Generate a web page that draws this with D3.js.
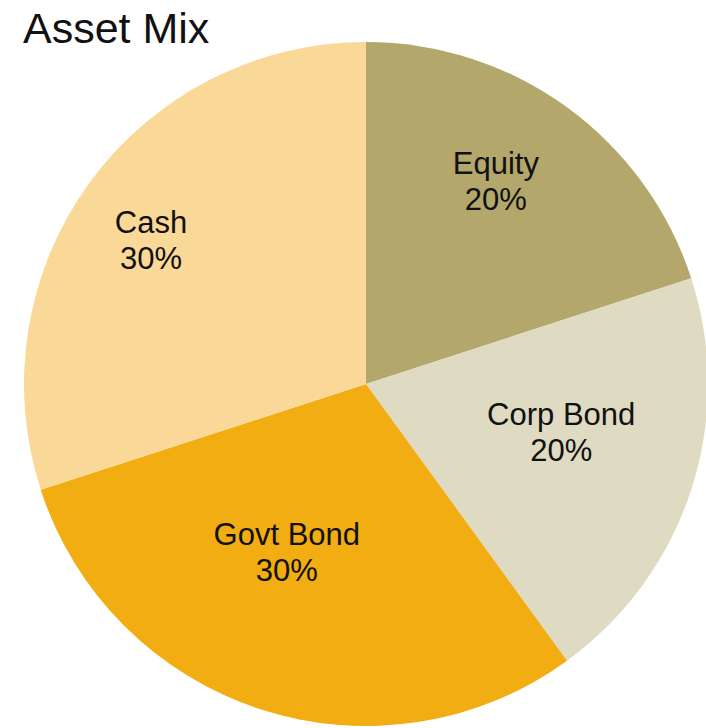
<!DOCTYPE html>
<html>
<head>
<meta charset="utf-8">
<script src="https://cdn.jsdelivr.net/npm/d3@7/dist/d3.min.js"></script>
<style>
  html, body { margin: 0; padding: 0; background: #ffffff; }
  svg { display: block; }
  text { font-family: "Liberation Sans", Arial, sans-serif; fill: #111111; }
</style>
</head>
<body>
<svg id="chart" width="706" height="728"></svg>
<script>
// Asset allocation shares (percent), clockwise from 12 o'clock
const categories = ["Equity", "Corp Bond", "Govt Bond", "Cash"];
const shares = [20, 20, 30, 30];
const colors = ["#B3A76C", "#DEDBC2", "#F1AD12", "#FAD998"];

const width = 706, height = 728;
const cx = 366, cy = 384, radius = 342;

// Label placement per slice: [angle in degrees clockwise from top, distance from centre]
const labelPlacement = {
  "Equity":    [32.6, 241],
  "Corp Bond": [103.8, 201],
  "Govt Bond": [205.2, 186],
  "Cash":      [303.9, 259]
};

const svg = d3.select("#chart");

svg.append("text")
  .attr("x", 23)
  .attr("y", 43)
  .style("font-size", "43px")
  .text("Asset Mix");

const data = categories.map((c, i) => ({ name: c, value: shares[i], color: colors[i] }));

const pie = d3.pie().value(d => d.value).sort(null);
const arc = d3.arc().innerRadius(0).outerRadius(radius);

const g = svg.append("g").attr("transform", `translate(${cx},${cy})`);

const arcs = pie(data);

g.selectAll("path.slice")
  .data(arcs)
  .join("path")
  .attr("class", "slice")
  .attr("d", arc)
  .attr("fill", d => d.data.color);

const fontSize = 31, lineGap = 36, capHalf = 11;

const labels = g.selectAll("text.label")
  .data(arcs)
  .join("text")
  .attr("class", "label")
  .attr("text-anchor", "middle")
  .style("font-size", fontSize + "px")
  .attr("transform", d => {
    const [deg, r] = labelPlacement[d.data.name];
    const a = deg * Math.PI / 180;
    return `translate(${r * Math.sin(a)},${-r * Math.cos(a)})`;
  });

labels.append("tspan")
  .attr("x", 0)
  .attr("y", -lineGap / 2 + capHalf)
  .text(d => d.data.name);

labels.append("tspan")
  .attr("x", 0)
  .attr("y", lineGap / 2 + capHalf)
  .text(d => d3.format(".0f")(d.data.value) + "%");
</script>
</body>
</html>
